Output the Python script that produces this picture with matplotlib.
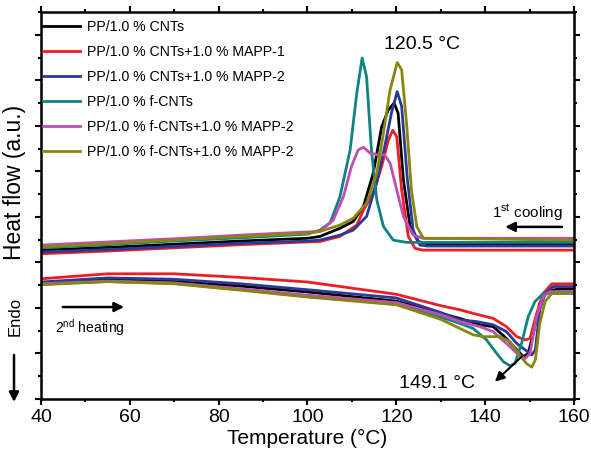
import numpy as np
import matplotlib
matplotlib.use('Agg')
import matplotlib.pyplot as plt

# ============ 样式设置 ============
plt.rcParams.update({
    'font.family': ['Liberation Sans', 'DejaVu Sans'],
    'mathtext.fontset': 'custom',
    'mathtext.rm': 'Liberation Sans',
    'mathtext.it': 'Liberation Sans:italic',
    'axes.linewidth': 1.8,
    'xtick.direction': 'out',
    'ytick.direction': 'out',
    'xtick.major.width': 1.5,
    'ytick.major.width': 1.5,
    'xtick.minor.width': 1.5,
    'ytick.minor.width': 1.5,
    'xtick.major.size': 4,
    'ytick.major.size': 4,
    'xtick.minor.size': 2,
    'ytick.minor.size': 2,
})

labels = ['PP/1.0 % CNTs', 'PP/1.0 % CNTs+1.0 % MAPP-1', 'PP/1.0 % CNTs+1.0 % MAPP-2',
          'PP/1.0 % f-CNTs', 'PP/1.0 % f-CNTs+1.0 % MAPP-2', 'PP/1.0 % f-CNTs+1.0 % MAPP-2']
colors = ['#000000', '#ee1d24', '#2b3a98', '#0f8282', '#c04eb2', '#878710']

# ============ 第一次降温曲线 (T, heat flow) ============
cool_T = [
    [40, 55, 70, 85, 100, 102.8, 107.3, 110.3, 112.6, 114.8, 116.7, 118.2, 119.5, 120.4, 121.6, 123.1, 124.9, 127, 160],
    [40, 55, 70, 85, 100, 102.8, 107.3, 111.1, 112.6, 114.8, 116.7, 118.2, 119.2, 120.1, 121.2, 122.7, 124.2, 126, 160],
    [40, 55, 70, 85, 100, 102.8, 107.3, 110.3, 113.3, 115.6, 117.4, 118.9, 120.2, 121.2, 122.5, 123.8, 125.3, 127, 160],
    [40, 55, 70, 85, 100, 102.8, 105.1, 107.3, 109.6, 111.1, 112.3, 113.3, 114.4, 115.6, 117.1, 119.3, 122.3, 160],
    [40, 55, 70, 85, 100, 102.8, 105.8, 108.1, 109.9, 111.4, 112.6, 114.1, 116.0, 117.4, 118.6, 120.1, 121.6, 123.8, 126.1, 160],
    [40, 55, 70, 85, 100, 102.8, 107.3, 110.3, 113.3, 115.6, 117.1, 118.6, 120.2, 121.2, 122.3, 123.4, 124.6, 126.1, 160],
]
cool_Q = [
    [3.27, 3.33, 3.40, 3.47, 3.53, 3.57, 3.75, 3.90, 4.23, 4.96, 5.98, 6.35, 6.50, 6.28, 4.81, 3.79, 3.46, 3.41, 3.41],
    [3.19, 3.25, 3.32, 3.39, 3.45, 3.46, 3.57, 3.82, 4.15, 4.52, 5.11, 5.69, 5.90, 5.76, 4.59, 3.57, 3.31, 3.27, 3.27],
    [3.23, 3.28, 3.35, 3.42, 3.47, 3.49, 3.60, 3.71, 4.01, 4.76, 5.55, 6.28, 6.75, 6.43, 4.81, 3.71, 3.38, 3.36, 3.36],
    [3.32, 3.39, 3.47, 3.54, 3.62, 3.71, 3.87, 4.44, 5.47, 6.72, 7.49, 7.08, 5.47, 4.37, 3.79, 3.49, 3.44, 3.44],
    [3.38, 3.45, 3.52, 3.60, 3.67, 3.68, 3.93, 4.45, 5.11, 5.47, 5.53, 5.40, 5.36, 5.36, 5.18, 4.59, 4.01, 3.60, 3.53, 3.53],
    [3.34, 3.41, 3.49, 3.57, 3.64, 3.68, 3.82, 3.97, 4.30, 4.96, 5.84, 6.79, 7.39, 7.23, 6.06, 4.59, 3.79, 3.53, 3.49],
]

# ============ 第二次升温曲线 (T, heat flow) ============
heat_T = [
    [40, 55, 70, 85, 100, 120, 130, 134.3, 138.8, 141.8, 144.8, 147.1, 148.6, 149.7, 151.2, 152.3, 153.8, 156.1, 160],
    [40, 55, 70, 85, 100, 120, 130, 134.3, 137.3, 141.8, 144.8, 147.1, 149.0, 150.1, 151.6, 153.1, 155.0, 160],
    [40, 55, 70, 85, 100, 120, 130, 134.3, 138.1, 141.8, 144.8, 147.1, 149.0, 150.5, 151.3, 152.3, 153.5, 155.3, 160],
    [40, 55, 70, 85, 100, 120, 130, 134.3, 137.3, 140.3, 142.6, 144.1, 145.6, 146.7, 148.2, 149.7, 151.2, 153.1, 160],
    [40, 55, 70, 85, 100, 120, 130, 134.3, 138.8, 141.8, 144.8, 147.5, 149.0, 150.1, 151.6, 153.1, 154.6, 160],
    [40, 55, 70, 85, 100, 120, 130, 134.3, 137.3, 139.6, 143.3, 145.6, 147.5, 149.3, 150.5, 151.3, 152.3, 153.5, 155.0, 160],
]
heat_Q = [
    [2.55, 2.62, 2.58, 2.48, 2.35, 2.15, 1.88, 1.77, 1.63, 1.59, 1.33, 1.08, 0.93, 1.00, 1.59, 2.10, 2.36, 2.41, 2.42],
    [2.64, 2.75, 2.75, 2.67, 2.57, 2.30, 2.05, 1.96, 1.88, 1.77, 1.59, 1.37, 1.30, 1.33, 1.88, 2.32, 2.53, 2.53],
    [2.57, 2.66, 2.63, 2.53, 2.40, 2.22, 1.90, 1.74, 1.70, 1.63, 1.48, 1.22, 1.08, 0.97, 1.08, 1.96, 2.32, 2.47, 2.47],
    [2.52, 2.58, 2.54, 2.40, 2.25, 2.08, 1.80, 1.66, 1.55, 1.30, 1.00, 0.82, 0.73, 0.78, 1.22, 1.81, 2.14, 2.32, 2.32],
    [2.53, 2.59, 2.55, 2.42, 2.28, 2.12, 1.85, 1.70, 1.59, 1.48, 1.22, 0.97, 0.89, 1.00, 1.81, 2.25, 2.36, 2.36],
    [2.51, 2.58, 2.53, 2.39, 2.24, 2.07, 1.75, 1.55, 1.41, 1.37, 1.37, 1.26, 1.00, 0.78, 0.70, 0.86, 1.66, 2.14, 2.32, 2.33],
]

fig = plt.figure(figsize=(5.91, 4.58), dpi=100)
ax = fig.add_axes([0.0694, 0.1288, 0.9018, 0.845])

for i in range(6):
    ax.plot(cool_T[i], cool_Q[i], color=colors[i], lw=2.0, label=labels[i],
            solid_joinstyle='round')
for i in range(6):
    ax.plot(heat_T[i], heat_Q[i], color=colors[i], lw=2.0, solid_joinstyle='round')

ax.set_xlim(40, 160)
ax.set_ylim(0, 8.5)
ax.set_xticks(np.arange(40, 161, 20))
ax.set_xticks(np.arange(50, 160, 20), minor=True)
ax.set_yticks(np.arange(0, 8.6, 1))
ax.set_yticks(np.arange(0.5, 8.6, 1), minor=True)
ax.tick_params(which='both', top=True, right=True, labelleft=False)
ax.tick_params(axis='x', labelsize=14)
ax.set_xlabel('Temperature (°C)', fontsize=15, labelpad=2)

ax.legend(loc='upper left', bbox_to_anchor=(-0.01, 1.0), frameon=False, fontsize=10.2,
          handlelength=2.6, handletextpad=0.5, labelspacing=0.78, borderpad=0.55,
          borderaxespad=0.0)

# 峰值标注
ax.text(125.8, 7.78, '120.5 °C', fontsize=14, ha='center', va='center')
ax.text(129.2, 0.35, '149.1 °C', fontsize=14, ha='center', va='center')
ax.annotate('', xy=(142.2, 0.38), xytext=(148.2, 0.93),
            arrowprops=dict(arrowstyle='-|>', color='black', lw=1.5,
                            mutation_scale=14, shrinkA=0, shrinkB=0))

# 降温/升温方向
ax.text(149.6, 4.09, r'1$^{\rm st}$ cooling', fontsize=11, ha='center', va='center')
ax.annotate('', xy=(144.5, 3.78), xytext=(157.3, 3.78),
            arrowprops=dict(arrowstyle='-|>', color='black', lw=1.8,
                            mutation_scale=14, shrinkA=0, shrinkB=0))
ax.text(43.2, 1.58, r'2$^{\rm nd}$ heating', fontsize=10, ha='left', va='center')
ax.annotate('', xy=(58.7, 2.02), xytext=(44.9, 2.02),
            arrowprops=dict(arrowstyle='-|>', color='black', lw=1.8,
                            mutation_scale=14, shrinkA=0, shrinkB=0))

# 纵轴说明
fig.text(15 / 591, 1 - 182 / 458, 'Heat flow (a.u.)', rotation=90, fontsize=16.5,
         ha='center', va='center')
fig.text(15 / 591, 1 - 316 / 458, 'Endo', rotation=90, fontsize=12,
         ha='center', va='center')
ax.annotate('', xy=(14 / 591, 1 - 402 / 458), xytext=(14 / 591, 1 - 355 / 458),
            xycoords='figure fraction', textcoords='figure fraction',
            arrowprops=dict(arrowstyle='-|>', color='black', lw=1.8,
                            mutation_scale=14, shrinkA=0, shrinkB=0))

fig.savefig('out.png', dpi=100, facecolor='white')
